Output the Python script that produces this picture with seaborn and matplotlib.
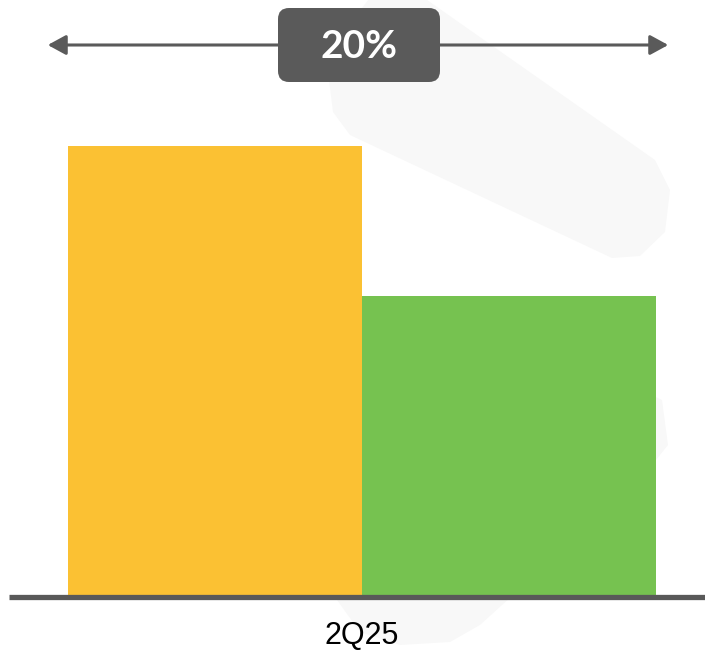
import matplotlib
matplotlib.use("Agg")
import matplotlib.pyplot as plt
from matplotlib.patches import FancyBboxPatch, FancyArrowPatch, Polygon
from matplotlib.transforms import IdentityTransform
import seaborn as sns
import pandas as pd

# ---- data ----
categories = ["2Q25", "2Q25"]
series = ["A", "B"]
values = [150, 100]
change_label = "20%"
colors = ["#FBC133", "#76C250"]

W, H, DPI = 7.05, 6.54, 100
PW, PH = W * DPI, H * DPI

sns.set_theme(style="white")
fig = plt.figure(figsize=(W, H), dpi=DPI)
fig.patch.set_facecolor("white")
ax = fig.add_axes([0, 0, 1, 1])
ax.patch.set_facecolor("white")

df = pd.DataFrame({"cat": categories, "series": series, "value": values})

sns.barplot(data=df, x="cat", y="value", hue="series", palette=colors,
            width=0.8, saturation=1, legend=False, ax=ax,
            edgecolor="none", linewidth=0, zorder=2)

# scales: bars span -0.4..0.4 -> px 68..656
ppu = (656 - 68) / 0.8
ax.set_xlim(-0.4 - 68 / ppu, 0.4 + (PW - 656) / ppu)
top_px = 146
ypu = (597 - top_px) / max(values)
ax.set_ylim(-(PH - 597) / ypu, 597 / ypu)

for s in ax.spines.values():
    s.set_visible(False)
ax.set_xticks([])
ax.set_yticks([])
ax.set_xlabel("")
ax.set_ylabel("")

# faint background watermark (decoration), pixel coords with y from top
def px(points):
    return [(x, PH - y) for x, y in points]

for pts in [
    [(372, -5), (420, -5), (655, 160), (670, 190), (665, 232),
     (640, 256), (612, 258), (350, 135), (333, 112), (329, 80), (345, 30)],
    [(337, 600), (360, 632), (400, 645), (450, 642), (480, 625),
     (640, 480), (668, 445), (662, 400), (620, 380), (500, 420)],
]:
    ax.add_patch(Polygon(px(pts), closed=True, facecolor="#F8F8F8",
                         edgecolor="none", transform=IdentityTransform(),
                         zorder=0.5, clip_on=False))

# baseline
ax.axhline(0, xmin=9 / PW, xmax=1.0, color="#595959", lw=3.8,
           solid_capstyle="butt", zorder=3)

# category label
ax.text(0, 1 - 636 / PH, categories[0], transform=ax.get_xaxis_transform(),
        ha="center", va="center", fontsize=22, color="#000000",
        family="Liberation Sans", zorder=4)

# arrow and badge
ax.add_patch(FancyArrowPatch((45, PH - 45), (671, PH - 45),
                             arrowstyle="<|-|>,head_length=11,head_width=6",
                             color="#5A5A5A", lw=2.2, mutation_scale=1,
                             transform=IdentityTransform(), zorder=4,
                             clip_on=False))
ax.add_patch(FancyBboxPatch((278, PH - 82), 162, 74,
                            boxstyle="round,pad=0,rounding_size=11",
                            facecolor="#5A5A5A", edgecolor="none",
                            transform=IdentityTransform(), zorder=5,
                            clip_on=False))
ax.text(359 / PW, 1 - 46 / PH, change_label, transform=ax.transAxes,
        ha="center", va="center", fontsize=28, color="white",
        fontweight="bold", family="Lato", zorder=6)

fig.savefig("out.png", dpi=DPI, facecolor="white")
